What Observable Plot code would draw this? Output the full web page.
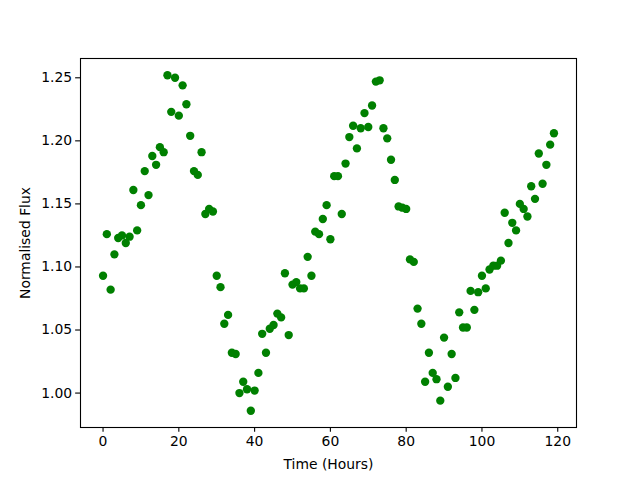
<!DOCTYPE html>
<html>
<head>
<meta charset="utf-8">
<script src="https://cdn.jsdelivr.net/npm/d3@7"></script>
<script src="https://cdn.jsdelivr.net/npm/@observablehq/plot@0.6"></script>
<style>
  html, body { margin: 0; padding: 0; background: #fff; }
</style>
</head>
<body>
<div id="chart"></div>
<script>
const hours = d3.range(0, 120);
const flux = [
  1.093, 1.126, 1.082, 1.110, 1.123, 1.125, 1.119, 1.124, 1.161, 1.129,
  1.149, 1.176, 1.157, 1.188, 1.181, 1.195, 1.191, 1.252, 1.223, 1.250,
  1.220, 1.244, 1.229, 1.204, 1.176, 1.173, 1.191, 1.142, 1.146, 1.144,
  1.093, 1.084, 1.055, 1.062, 1.032, 1.031, 1.000, 1.009, 1.003, 0.986,
  1.002, 1.016, 1.047, 1.032, 1.051, 1.054, 1.063, 1.060, 1.095, 1.046,
  1.086, 1.088, 1.083, 1.083, 1.108, 1.093, 1.128, 1.126, 1.138, 1.149,
  1.122, 1.172, 1.172, 1.142, 1.182, 1.203, 1.212, 1.194, 1.210, 1.222,
  1.211, 1.228, 1.247, 1.248, 1.210, 1.202, 1.185, 1.169, 1.148, 1.147,
  1.146, 1.106, 1.104, 1.067, 1.055, 1.009, 1.032, 1.016, 1.011, 0.994,
  1.044, 1.005, 1.031, 1.012, 1.064, 1.052, 1.052, 1.081, 1.066, 1.080,
  1.093, 1.083, 1.098, 1.101, 1.101, 1.105, 1.143, 1.119, 1.135, 1.129,
  1.150, 1.146, 1.140, 1.164, 1.154, 1.190, 1.166, 1.181, 1.197, 1.206
];
const xTicks = [0, 20, 40, 60, 80, 100, 120];
const yTicks = [1.00, 1.05, 1.10, 1.15, 1.20, 1.25];

const data = hours.map((h, i) => ({hour: h, flux: flux[i]}));

function padded(vals) {
  const [lo, hi] = d3.extent(vals);
  const m = (hi - lo) * 0.05;
  return [lo - m, hi + m];
}

const chart = Plot.plot({
  width: 640,
  height: 480,
  marginLeft: 80,
  marginRight: 64,
  marginTop: 58,
  marginBottom: 53,
  style: {fontFamily: "DejaVu Sans", fontSize: "13.9px", color: "#000", background: "#fff"},
  x: {domain: padded(hours)},
  y: {domain: padded(flux)},
  marks: [
    Plot.dot(data, {x: "hour", y: "flux", r: 4.17, fill: "#008000", stroke: "none"}),
    Plot.axisX(xTicks, {tickSize: 4.86, tickPadding: 3.5, strokeWidth: 1.1, label: "Time (Hours)", labelAnchor: "center", labelArrow: "none", labelOffset: 41}),
    Plot.axisY(yTicks, {tickSize: 4.86, tickPadding: 3.5, strokeWidth: 1.1, tickFormat: d3.format(".2f"), label: "Normalised Flux", labelAnchor: "center", labelArrow: "none", labelOffset: 60}),
    Plot.frame({stroke: "#000", strokeWidth: 1.1})
  ]
});
document.getElementById("chart").appendChild(chart);
</script>
</body>
</html>
